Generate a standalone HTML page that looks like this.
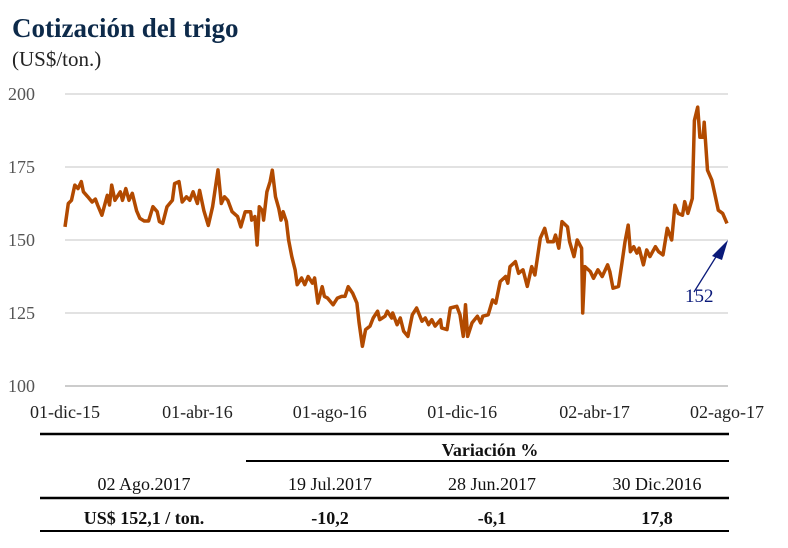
<!DOCTYPE html>
<html><head><meta charset="utf-8"><style>
body{margin:0;background:#fff;width:788px;height:548px;overflow:hidden;font-family:"Liberation Serif",serif}
svg{display:block}
</style></head><body>
<svg width="788" height="548">
<text x="12" y="37" font-size="27" font-weight="bold" fill="#0d2a4a">Cotización del trigo</text>
<text x="12" y="66" font-size="21" fill="#222">(US$/ton.)</text>
<g id="grid"></g><g id="yt"></g><g id="xt"></g>
<path id="line" fill="none" stroke="#b24a00" stroke-width="3.5" stroke-linejoin="round"/>
<line x1="694" y1="292" x2="719" y2="252" stroke="#0a1a7a" stroke-width="1.3"/>
<polygon points="728,240 712,256 722,260" fill="#0a1a7a"/>
<text x="685" y="302" font-size="19" fill="#0a1a7a">152</text>
<g>
<line x1="40" y1="434" x2="729" y2="434" stroke="#000" stroke-width="2.5"/>
<line x1="246" y1="461" x2="729" y2="461" stroke="#000" stroke-width="2"/>
<line x1="40" y1="498" x2="729" y2="498" stroke="#000" stroke-width="2.5"/>
<line x1="40" y1="531" x2="729" y2="531" stroke="#000" stroke-width="2"/>
<text x="490" y="456" font-size="18" font-weight="bold" text-anchor="middle" fill="#111">Variación %</text>
<g font-size="18" text-anchor="middle" fill="#111">
<text x="144" y="490">02 Ago.2017</text>
<text x="330" y="490">19 Jul.2017</text>
<text x="492" y="490">28 Jun.2017</text>
<text x="657" y="490">30 Dic.2016</text>
</g>
<g font-size="18" font-weight="bold" text-anchor="middle" fill="#111">
<text x="144" y="524">US$ 152,1 / ton.</text>
<text x="330" y="524">-10,2</text>
<text x="492" y="524">-6,1</text>
<text x="657" y="524">17,8</text>
</g>
</g>
</svg>
<script>
const days=[0,3,6,9,12,15,17,21,25,28,30,34,39,41,43,46,51,53,56,59,62,66,69,73,77,81,85,87,90,94,99,101,105,108,112,115,118,122,124,128,132,136,141,144,147,150,154,159,162,166,171,172,175,177,179,182,183,186,189,191,194,197,199,201,204,206,209,212,214,218,221,224,228,230,233,237,239,242,247,251,255,258,261,265,269,271,274,277,281,284,288,290,295,297,301,302,306,309,312,316,320,324,329,332,335,338,341,346,347,352,355,361,364,367,369,371,375,380,383,385,390,394,397,401,406,408,410,415,418,422,426,430,433,438,442,445,450,452,455,458,463,465,469,472,476,477,479,484,487,491,495,500,502,505,510,513,516,519,521,524,527,529,533,536,539,544,547,551,555,559,562,565,569,571,574,578,580,583,585,588,589,592,596,599,602,606,610];
const prices=[154.5,162.5,163.6,168.8,167.6,170,166.5,164.8,163,164,162,158.5,165.3,162,168.8,163.6,166.5,163.6,167.6,163.6,166,160,157.4,156.5,156.5,161.4,159.7,156.3,155.7,161.4,163.6,169.3,170,163,164.8,163.6,166.5,162.5,167,160,155,161.4,174,162.5,164.8,163.6,159.7,158,154.5,159.7,159.7,156.8,158,148.3,161.4,160,156.8,166.5,170,173.9,164.8,160.8,156.8,159.7,156.3,150,144.3,139.8,134.7,137,134.7,137.5,135.2,137,128.4,134,130.7,130.1,127.8,130.1,130.7,130.7,134,131.8,128.4,121.6,113.6,119.3,120.5,123.3,125.6,122.7,123.9,125.6,123.3,125,121,123.3,118.8,117,124.4,126.7,122.2,123.3,121,122.7,120.5,122.7,119.9,119.3,126.7,127.3,124.4,117,127.8,117,121.6,123.9,121.6,123.9,124.4,129.5,128.4,135.8,137.5,135.2,140.9,142.6,138.6,139.8,134.1,140.9,138,150.6,154,149.4,149.4,151.7,147.2,156.3,154.5,149.4,144.3,150,147.2,125,140.9,139.2,136.9,139.8,137.5,141.5,139.2,133.5,134.1,141.5,149.4,155.1,146,147.7,145.5,147.2,141.5,146.6,144.3,147.7,146,144.9,154,150,161.9,159.1,158.5,163.1,159.1,164.2,190.9,195.5,185.2,185.2,190.3,173.9,170.5,165.3,160.2,159.1,155.7,152.1];
const yTicks=[100,125,150,175,200];
const xTickDays=[0,122,244,366,488,610];
const xTickLabels=["01-dic-15","01-abr-16","01-ago-16","01-dic-16","02-abr-17","02-ago-17"];
const X0=65,X1=727,Y0=386,Y1=94;
const xs=d=>X0+(d-0)/(610-0)*(X1-X0);
const ys=v=>Y0-(v-100)/(200-100)*(Y0-Y1);
const NS="http://www.w3.org/2000/svg";
const grid=document.getElementById('grid'),yt=document.getElementById('yt'),xt=document.getElementById('xt');
yTicks.forEach(v=>{
 const l=document.createElementNS(NS,'line');
 
 
 l.setAttribute('x1',65);l.setAttribute('x2',728);l.setAttribute('y1',ys(v));l.setAttribute('y2',ys(v));
 l.setAttribute('stroke',v===100?'#bbb':'#d9d9d9');l.setAttribute('stroke-width',v===100?1.5:1.5);
 grid.appendChild(l);
 const t=document.createElementNS(NS,'text');
 
 
 t.setAttribute('x',8);t.setAttribute('y',ys(v)+6);t.setAttribute('font-size','18');t.setAttribute('fill','#555');
 t.textContent=v;yt.appendChild(t);
});
xTickDays.forEach((d,i)=>{
 const t=document.createElementNS(NS,'text');
 
 
 t.setAttribute('x',xs(d));t.setAttribute('y',418);t.setAttribute('font-size','18');t.setAttribute('fill','#222');t.setAttribute('text-anchor','middle');
 t.textContent=xTickLabels[i];xt.appendChild(t);
});
document.getElementById('line').setAttribute('d',days.map((d,i)=>(i?'L':'M')+xs(d).toFixed(1)+','+ys(prices[i]).toFixed(1)).join(''));
</script>
</body></html>
